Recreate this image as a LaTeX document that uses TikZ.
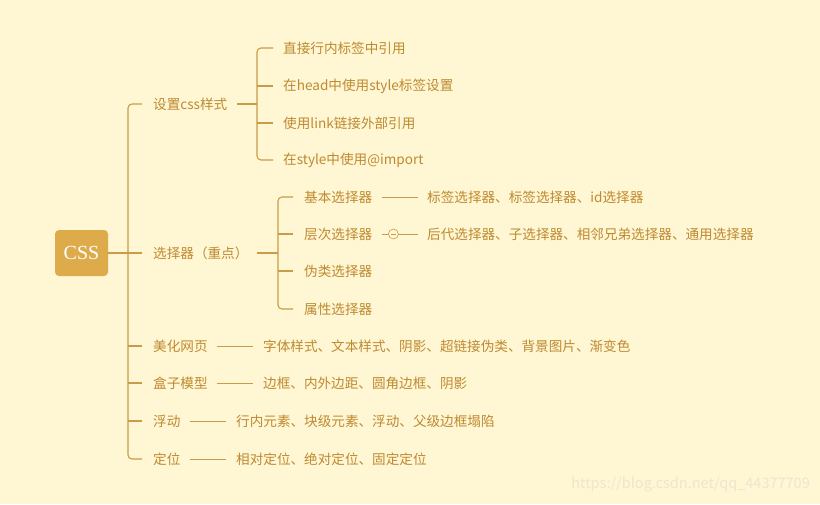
\documentclass[tikz,border=0pt]{standalone}
\usepackage{fontspec}
\setmainfont{Noto Sans CJK SC}
\newfontfamily\cssfont{Liberation Serif}
\usepackage{tikz}
\usepackage{xcolor}
\usetikzlibrary{positioning}
\definecolor{mybg}{RGB}{255,246,212}
\definecolor{mygold}{RGB}{190,138,48}
\definecolor{myline}{RGB}{200,156,72}
\definecolor{mybox}{RGB}{221,171,74}
\definecolor{mymark}{RGB}{236,230,208}

\tikzset{
  topic/.style={anchor=west,inner sep=0pt,text=mygold,font=\fontsize{13.6}{16}\selectfont},
  link/.style={draw=myline,line width=1.1pt},
  trunk/.style={link,rounded corners=4pt}
}

\begin{document}
\begin{tikzpicture}[x=1pt,y=-1pt]
        \fill[mybg](0,0) rectangle (820,504);
        \useasboundingbox (0,0) rectangle (820,504);
        % root
        \node[fill=mybox,rounded corners=4pt,minimum width=53pt,minimum height=46pt,
          text=white,font=\cssfont\fontsize{20}{22}\selectfont](css) at (81.5,253){CSS};
        % first level
        \node[topic](sz) at (153,104){设置css样式};
        \node[topic](xzq) at (153,253){选择器（重点）};
        \node[topic](mh) at (153,346){美化网页};
        \node[topic](hz) at (153,383){盒子模型};
        \node[topic](fd) at (153,421){浮动};
        \node[topic](dw) at (153,459){定位};
        \coordinate(t0) at (128,253);
        \draw[link](css.east)--(t0);
        \draw[trunk]([xshift=-11pt]sz.west)-|(t0)|-([xshift=-11pt]dw.west);
        \foreach \n in {xzq,mh,hz,fd}
          \draw[link](t0|-\n.west)--([xshift=-11pt]\n.west);
        % 设置css样式
        \node[topic](zj) at (283,48){直接行内标签中引用};
        \node[topic](hd) at (283,86){在head中使用style标签设置};
        \node[topic](lk) at (283,123){使用link链接外部引用};
        \node[topic](im) at (283,160){在style中使用@import};
        \coordinate(t1) at (257,104);
        \draw[link,line width=2pt]([xshift=10pt]sz.east)--(t1);
        \draw[trunk]([xshift=-10pt]zj.west)-|(t1)|-([xshift=-10pt]im.west);
        \foreach \n in {hd,lk}
          \draw[link](t1|-\n.west)--([xshift=-10pt]\n.west);
        % 选择器
        \node[topic](jb) at (304,197){基本选择器};
        \node[topic](cc) at (304,234){层次选择器};
        \node[topic](wl) at (304,271){伪类选择器};
        \node[topic](sx) at (304,309){属性选择器};
        \coordinate(t2) at (278,253);
        \draw[link,line width=2pt]([xshift=8pt]xzq.east)--(t2);
        \draw[trunk]([xshift=-11pt]jb.west)-|(t2)|-([xshift=-11pt]sx.west);
        \foreach \n in {cc,wl}
          \draw[link](t2|-\n.west)--([xshift=-11pt]\n.west);
        % details
        \node[topic](jbd) at (427,197){标签选择器、标签选择器、id选择器};
        \node[topic](ccd) at (427,234){后代选择器、子选择器、相邻兄弟选择器、通用选择器};
        \node[topic](mhd) at (263,346){字体样式、文本样式、阴影、超链接伪类、背景图片、渐变色};
        \node[topic](hzd) at (263,383){边框、内外边距、圆角边框、阴影};
        \node[topic](fdd) at (236,421){行内元素、块级元素、浮动、父级边框塌陷};
        \node[topic](dwd) at (236,459){相对定位、绝对定位、固定定位};
        \draw[link,line width=0.8pt]([xshift=10pt]jb.east)--([xshift=-9pt]jbd.west);
        \coordinate(cm) at ([xshift=21pt]cc.east);
        \draw[link,line width=0.8pt]([xshift=10pt]cc.east)--([xshift=-5pt]cm);
        \draw[link,line width=0.6pt](cm) circle(5pt);
        \draw[link,line width=0.6pt]([xshift=-2.5pt]cm)--([xshift=2.5pt]cm);
        \draw[link,line width=0.8pt]([xshift=5pt]cm)--([xshift=-9pt]ccd.west);
        \foreach \n in {mh,hz,fd,dw}
          \draw[link,line width=0.8pt]([xshift=9pt]\n.east)--([xshift=-10pt]\n d.west);
        % watermark
        \node[anchor=east,inner sep=0pt,text=mymark,font=\fontsize{14.5}{16}\selectfont](wm) at (810,485){https://blog.csdn.net/qq\_44377709};
      \end{tikzpicture}
\end{document}
